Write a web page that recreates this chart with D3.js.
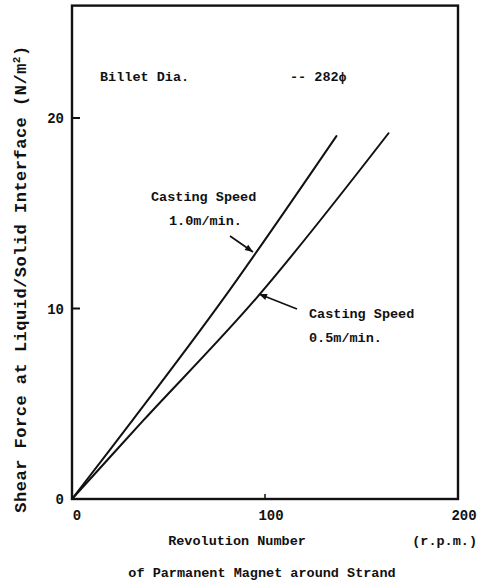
<!DOCTYPE html>
<html>
<head>
<meta charset="utf-8">
<script src="https://cdn.jsdelivr.net/npm/d3@7"></script>
<style>
  html, body { margin: 0; padding: 0; background: #fff; }
  svg text { font-family: "Liberation Mono", "DejaVu Sans Mono", monospace; fill: #111; font-weight: bold; }
</style>
</head>
<body>
<svg id="chart" width="482" height="585"></svg>
<script>
// Shear force (N/m^2) vs. revolution number (r.p.m.) of the permanent magnet
const speedFast = [ // casting speed 1.0 m/min
  [0, 0], [31.5, 4.15], [78, 10.45], [137, 19.05]
];
const speedSlow = [ // casting speed 0.5 m/min
  [0, 0], [37.2, 4.15], [96, 10.6], [164, 19.2]
];
const xTicks = [0, 100, 200];
const yTicks = [0, 10, 20];
const xMax = 200, yMax = 25.9;

const svg = d3.select("#chart");
const left = 72, right = 458, bottom = 499;
const x = d3.scaleLinear().domain([0, xMax]).range([left, right]);
const y = d3.scaleLinear().domain([0, 20]).range([bottom, 118]);

// frame
svg.append("rect")
  .attr("x", x(0)).attr("y", y(yMax))
  .attr("width", x(xMax) - x(0)).attr("height", y(0) - y(yMax))
  .attr("fill", "none").attr("stroke", "#111").attr("stroke-width", 2.4);

// inward ticks
svg.append("g").selectAll("line").data(yTicks.filter(d => d > 0)).join("line")
  .attr("x1", x(0)).attr("x2", x(0) + 8)
  .attr("y1", d => y(d)).attr("y2", d => y(d))
  .attr("stroke", "#111").attr("stroke-width", 2);
svg.append("g").selectAll("line").data(xTicks.filter(d => d > 0 && d < xMax)).join("line")
  .attr("x1", d => x(d)).attr("x2", d => x(d))
  .attr("y1", y(0)).attr("y2", y(0) - 5)
  .attr("stroke", "#111").attr("stroke-width", 1.5);

// tick labels
svg.append("g").selectAll("text").data(yTicks).join("text")
  .attr("x", x(0) - 8).attr("y", d => y(d) + 5)
  .attr("text-anchor", "end").attr("font-size", 14)
  .text(d => d);
svg.append("g").selectAll("text").data(xTicks).join("text")
  .attr("x", d => x(d) + (d === 0 ? 5 : 6)).attr("y", 520)
  .attr("text-anchor", "middle").attr("font-size", 14)
  .text(d => d);

// curves
const line = d3.line().x(d => x(d[0])).y(d => y(d[1])).curve(d3.curveCatmullRom.alpha(0.5));
[speedFast, speedSlow].forEach(s => {
  svg.append("path").datum(s).attr("d", line)
    .attr("fill", "none").attr("stroke", "#111").attr("stroke-width", 2)
    .attr("stroke-linecap", "round");
});

// annotation text
const label = (tx, ty, str, size = 13.5) =>
  svg.append("text").attr("x", tx).attr("y", ty).attr("font-size", size).text(str);

label(100, 81, "Billet Dia.");
label(290, 81, "-- 282\u03D5");
label(151, 201, "Casting Speed");
label(169, 225, "1.0m/min.");
label(309, 318, "Casting Speed");
label(309, 342, "0.5m/min.");

// leader arrows
function arrow(x1, y1, x2, y2) {
  svg.append("line").attr("x1", x1).attr("y1", y1).attr("x2", x2).attr("y2", y2)
    .attr("stroke", "#111").attr("stroke-width", 1.6);
  const a = Math.atan2(y2 - y1, x2 - x1), L = 8, W = 3.2;
  const bx = x2 - L * Math.cos(a), by = y2 - L * Math.sin(a);
  const px = -Math.sin(a) * W, py = Math.cos(a) * W;
  svg.append("path")
    .attr("d", `M${x2},${y2}L${bx + px},${by + py}L${bx - px},${by - py}Z`)
    .attr("fill", "#111");
}
arrow(230, 236, 253, 252);
arrow(297, 309, 259, 294);

// axis titles
svg.append("text")
  .attr("transform", "translate(26,279) rotate(-90)")
  .attr("text-anchor", "middle").attr("font-size", 17).attr("letter-spacing", 0.5)
  .call(t => {
    t.append("tspan").text("Shear Force at Liquid/Solid Interface (N/m");
    t.append("tspan").attr("baseline-shift", "super").attr("font-size", 11).text("2");
    t.append("tspan").text(")");
  });

svg.append("text").attr("x", 237).attr("y", 545).attr("text-anchor", "middle")
  .attr("font-size", 13.5).text("Revolution Number");
svg.append("text").attr("x", 477).attr("y", 545).attr("text-anchor", "end")
  .attr("font-size", 13.5).text("(r.p.m.)");
svg.append("text").attr("x", 262).attr("y", 577).attr("text-anchor", "middle")
  .attr("font-size", 13.5).text("of Parmanent Magnet around Strand");
</script>
</body>
</html>
